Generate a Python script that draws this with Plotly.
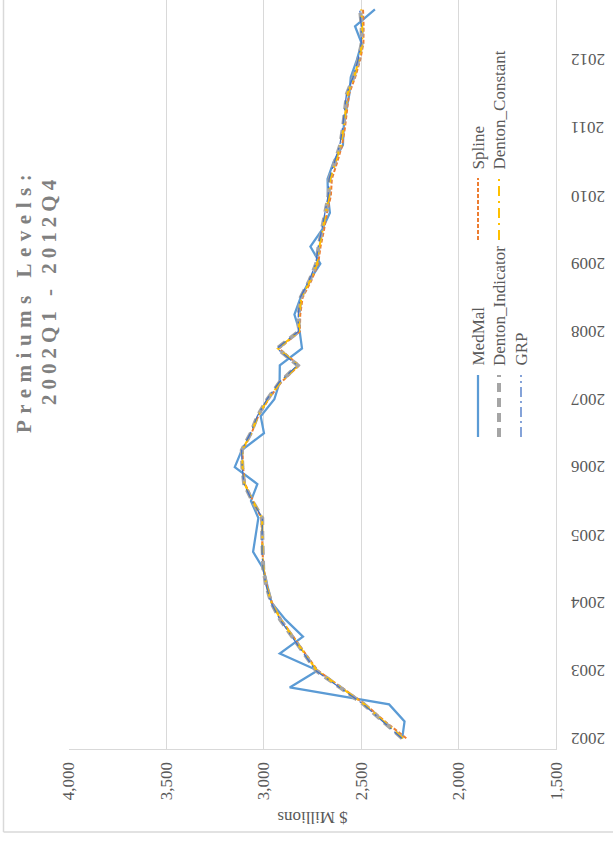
import plotly.graph_objects as go

W, H = 613, 845

years = [str(y) for y in range(2002, 2013)]
quarters = [f"{y}Q{q}" for y in years for q in range(1, 5)]

medmal = [2289, 2277, 2356, 2866, 2723, 2917, 2798, 2888, 2959, 2981, 3002, 3054,
          3041, 3027, 3065, 3032, 3148, 3112, 2998, 3015, 2945, 2918, 2917, 2803,
          2815, 2842, 2810, 2765, 2709, 2760, 2700, 2660, 2670, 2672, 2641, 2593,
          2590, 2577, 2560, 2553, 2522, 2497, 2531, 2429]
spline = [2268, 2378, 2478, 2598, 2722, 2786, 2848, 2910, 2957, 2983, 3000, 3006,
          3008, 3012, 3054, 3095, 3106, 3108, 3062, 3028, 2975, 2910, 2818, 2921,
          2814, 2812, 2800, 2755, 2720, 2708, 2690, 2675, 2655, 2650, 2622, 2597,
          2583, 2572, 2562, 2530, 2505, 2488, 2487, 2490]
denton_indicator = [2289, 2387, 2485, 2608, 2731, 2792, 2853, 2915, 2961, 2986, 3002, 3007,
                    3007, 3007, 3058, 3100, 3109, 3112, 3066, 3032, 2981, 2918, 2825, 2930,
                    2820, 2820, 2810, 2765, 2730, 2718, 2700, 2684, 2667, 2662, 2633, 2607,
                    2593, 2582, 2573, 2539, 2514, 2497, 2497, 2505]
denton_constant = [2285, 2383, 2482, 2604, 2727, 2790, 2851, 2912, 2960, 2985, 3001, 3006,
                   3006, 3008, 3056, 3098, 3108, 3110, 3064, 3030, 2978, 2915, 2822, 2927,
                   2818, 2818, 2806, 2761, 2726, 2714, 2697, 2680, 2664, 2658, 2630, 2604,
                   2590, 2579, 2570, 2536, 2511, 2494, 2494, 2500]
grp = [2291, 2389, 2487, 2610, 2733, 2794, 2855, 2916, 2962, 2987, 3003, 3008,
       3008, 3006, 3059, 3101, 3110, 3113, 3067, 3033, 2983, 2920, 2827, 2932,
       2822, 2822, 2812, 2767, 2732, 2720, 2702, 2686, 2669, 2664, 2635, 2609,
       2595, 2584, 2575, 2541, 2516, 2499, 2499, 2507]

value_ticks = [4000, 3500, 3000, 2500, 2000, 1500]

series = [
    ("MedMal", medmal, dict(color="#5b9bd5", width=2.25, dash="solid")),
    ("Spline", spline, dict(color="#ed7d31", width=2, dash="4px,2px")),
    ("Denton_Indicator", denton_indicator, dict(color="#a5a5a5", width=4, dash="9px,6px")),
    ("Denton_Constant", denton_constant, dict(color="#ffc000", width=2, dash="10px,5px,2px,5px")),
    ("GRP", grp, dict(color="#4472c4", width=1.3, dash="10px,4px,2px,4px")),
]

FONT = "Liberation Serif, Times New Roman, serif"
TXT = "#595959"
GRID = "#d9d9d9"

fig = go.Figure()
for name, vals, ln in series:
    fig.add_trace(go.Scatter(x=vals, y=quarters, mode="lines", name=name,
                             line=ln, showlegend=False))

def px(x):
    return x / W

def py(y):
    return 1 - y / H

x0, x1 = 68.7, 556.0
y_top, y_bot = 0.0, 749.0

fig.update_layout(
    template="none",
    width=W, height=H,
    margin=dict(l=0, r=0, t=0, b=0, pad=0),
    showlegend=False,
    paper_bgcolor="white", plot_bgcolor="white",
    font=dict(family=FONT, color=TXT, size=17),
    xaxis=dict(domain=[px(x0), px(x1)], range=[4000, 1500], automargin=False,
               tickmode="array", tickvals=value_ticks, tickformat=",", tickangle=-90,
               showgrid=True, gridcolor=GRID, gridwidth=1.3,
               showline=True, linecolor=GRID, linewidth=1.3,
               zeroline=False, ticks="", tickfont=dict(size=17, color=TXT),
               ticklabelstandoff=5),
    yaxis=dict(domain=[py(y_bot), py(y_top)], type="category", automargin=False,
               categoryorder="array", categoryarray=quarters,
               range=[-0.63, 43.55], side="right",
               showticklabels=False, showgrid=False, zeroline=False,
               showline=True, linecolor=GRID, linewidth=1.3, ticks=""),
)

shapes = []
# outer chart frame (left and bottom edges visible)
shapes.append(dict(type="line", xref="paper", yref="paper",
                   x0=px(3.5), x1=px(3.5), y0=py(0), y1=py(832),
                   line=dict(color=GRID, width=1.5)))
shapes.append(dict(type="line", xref="paper", yref="paper",
                   x0=px(3.5), x1=px(613), y0=py(832), y1=py(832),
                   line=dict(color=GRID, width=1.5)))

annotations = []
# category labels (years), drawn upside down next to the axis
for yr in years:
    annotations.append(dict(text=yr, x=px(588), y=f"{yr}Q1", xref="paper", yref="y",
                            showarrow=False, textangle=180,
                            font=dict(size=17, color=TXT, family=FONT),
                            xanchor="center", yanchor="middle"))
# axis title, upside down
annotations.append(dict(text="$ Millions", x=px((x0 + x1) / 2), y=py(818),
                        xref="paper", yref="paper", showarrow=False,
                        textangle=180, font=dict(size=17, color=TXT, family=FONT),
                        xanchor="center", yanchor="middle"))
# chart title, rotated
annotations.append(dict(text='<b><span style="letter-spacing:6.5px">Premiums Levels:</span></b>',
                        x=px(24), y=py(301), xref="paper", yref="paper", showarrow=False,
                        textangle=-90, font=dict(size=21, color="#808080", family=FONT),
                        xanchor="center", yanchor="middle"))
annotations.append(dict(text='<b><span style="letter-spacing:5px">2002Q1 - 2012Q4</span></b>',
                        x=px(49), y=py(290), xref="paper", yref="paper", showarrow=False,
                        textangle=-90, font=dict(size=21, color="#808080", family=FONT),
                        xanchor="center", yanchor="middle"))

# manual rotated legend
legend_items = [
    ("MedMal", 478, 437, 375, 368),
    ("Denton_Indicator", 499, 437, 375, 368),
    ("GRP", 521, 437, 375, 368),
    ("Spline", 478, 240, 178, 172),
    ("Denton_Constant", 499, 240, 178, 172),
]
style = {name: ln for name, _, ln in series}
for name, lx, ly0, ly1, ty in legend_items:
    ln = style[name]
    shapes.append(dict(type="line", xref="paper", yref="paper",
                       x0=px(lx), x1=px(lx), y0=py(ly0), y1=py(ly1),
                       line=dict(color=ln["color"], width=ln["width"], dash=ln["dash"])))
    annotations.append(dict(text=name, x=px(lx), y=py(ty), xref="paper", yref="paper",
                            showarrow=False, textangle=-90,
                            font=dict(size=17, color=TXT, family=FONT),
                            xanchor="center", yanchor="bottom"))

fig.update_layout(shapes=shapes, annotations=annotations)
fig.write_html("out.html", config={"displayModeBar": False},
               post_script="document.body.style.margin='0px';")
